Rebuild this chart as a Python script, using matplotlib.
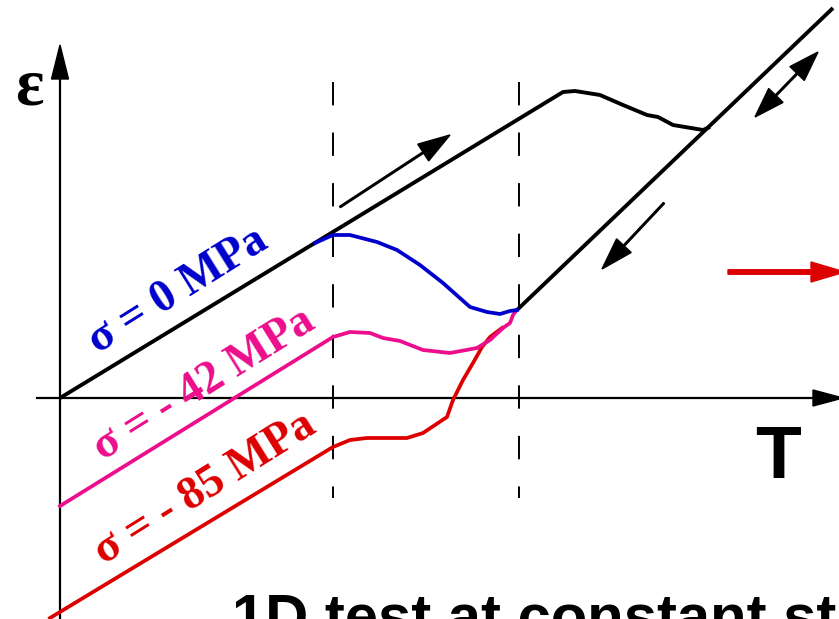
import matplotlib
matplotlib.use("Agg")
import matplotlib.pyplot as plt

# strain-temperature schematic, units: T and eps (arbitrary, origin at axes cross)
black_T = [0, 503, 515, 540, 563, 587, 598, 613, 643, 650]
black_eps = [0, 306, 307, 303, 293, 283, 281, 273, 268, 271]

cool_T = [457, 773]      # cooling / elastic branch
cool_eps = [88, 390]

blue_T = [255, 273, 290, 317, 337, 360, 383, 410, 427, 440, 450, 457]
blue_eps = [155, 163, 163, 156, 148, 133, 115, 91, 86, 84, 87, 88]

pink_T = [0, 273, 290, 310, 323, 340, 363, 390, 417, 430, 443, 450, 453, 456]
pink_eps = [-108, 61, 66, 65, 60, 57, 48, 45, 50, 58, 70, 75, 83, 87]

red_T = [-10, 273, 290, 307, 347, 363, 387, 393, 403, 413, 422, 430, 442]
red_eps = [-220, -49, -42, -40, -40, -35, -19, -2, 18, 35, 51, 61, 70]

dash_T = [273, 459]
labels = ["σ = 0 MPa", "σ = - 42 MPa", "σ = - 85 MPa"]
label_pos = [(118, 107), (144, 13), (145, -91)]

BLUE = "#0000CC"
PINK = "#EC0E8C"
RED = "#DD0000"

fig = plt.figure(figsize=(8.39, 6.19), dpi=100)
ax = fig.add_axes([0, 0, 1, 1])
ax.set_xlim(-60, 779)
ax.set_ylim(-221, 398)
ax.axis("off")

# axes of the sketch
ax.plot([0, 0], [-221, 325], color="k", lw=1.6)
ax.arrow(0, 318, 0, 35, width=0, head_width=17, head_length=34,
         length_includes_head=True, color="k")
ax.plot([-23, 760], [0, 0], color="k", lw=1.6)
ax.arrow(750, 0, 33, 0, width=0, head_width=16, head_length=30,
         length_includes_head=True, color="k")

for t in dash_T:
    ax.plot([t, t], [316, -100], color="k", lw=1.4, dashes=(12, 14))

ax.plot(black_T, black_eps, color="k", lw=2.8, solid_capstyle="butt")
ax.plot(cool_T, cool_eps, color="k", lw=2.8, solid_capstyle="butt")
ax.plot(red_T, red_eps, color=RED, lw=2.7)
ax.plot(pink_T, pink_eps, color=PINK, lw=2.7)
ax.plot(blue_T, blue_eps, color=BLUE, lw=2.7)

# direction arrows
ax.arrow(280, 191, 110, 72, width=1.6, head_width=20, head_length=32,
         length_includes_head=True, color="k")
ax.arrow(604, 195, -62, -66, width=1.6, head_width=20, head_length=32,
         length_includes_head=True, color="k")
ax.arrow(726, 313, 32, 33, width=1.6, head_width=20, head_length=30,
         length_includes_head=True, color="k")
ax.arrow(726, 313, -31, -32, width=1.6, head_width=20, head_length=30,
         length_includes_head=True, color="k")
ax.arrow(668, 126, 117, 0, width=4.5, head_width=20, head_length=34,
         length_includes_head=True, color=RED)

for txt, (x, y), c in zip(labels, label_pos, [BLUE, PINK, RED]):
    ax.text(x, y, txt, color=c, fontsize=33, fontweight="bold",
            family="Liberation Serif", rotation=32, rotation_mode="anchor",
            ha="center", va="center")

ax.text(-31, 310, "ε", fontsize=48, fontweight="bold", family="Liberation Serif",
        ha="center", va="center")
ax.text(718, -60, "T", fontsize=54, fontweight="bold", family="Liberation Sans",
        ha="center", va="center")
ax.text(172, -237, "1D test at constant stress", fontsize=43, fontweight="bold",
        family="Liberation Sans", ha="left", va="baseline")

fig.savefig("out.png", dpi=100)
